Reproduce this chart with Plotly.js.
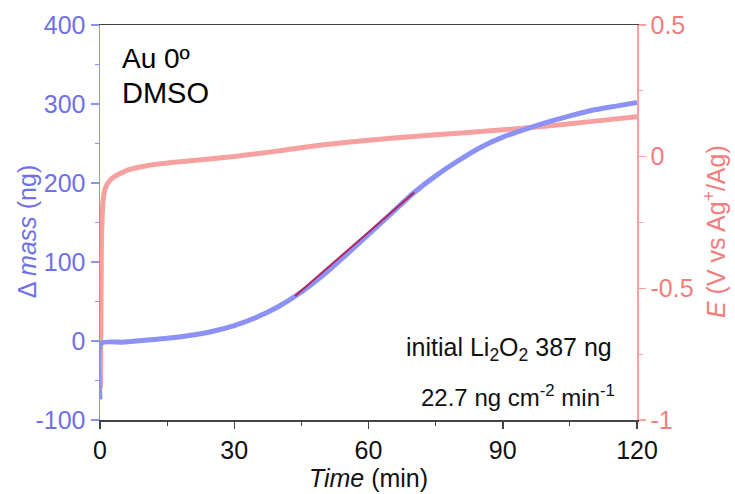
<!DOCTYPE html>
<html>
<head>
<meta charset="utf-8">
<script src="https://cdn.plot.ly/plotly-3.0.1.min.js"></script>
<style>
html,body{margin:0;padding:0;background:#fff;}
#chart{width:735px;height:494px;}
</style>
</head>
<body>
<div id="chart"></div>
<script>
// Mass change (ng) vs time (min)
var massTime = [0, 0.3, 5, 10, 15, 20, 25, 30, 35, 40, 45, 50, 55, 60, 65, 70, 75, 80, 85, 90, 95, 100, 105, 110, 115, 120];
var massVal  = [-74, -3, -1.5, 1, 3.5, 7, 12, 19.5, 30, 44, 62, 84, 109, 135, 161, 187, 209, 228, 245, 258, 268, 277, 285, 292, 297, 302];
// Potential (V vs Ag+/Ag) vs time (min)
var eTime = [0.1, 0.3, 0.5, 0.7, 1.1, 1.6, 2.2, 3.3, 5, 6.3, 8, 12, 16, 22, 30, 40, 50, 60, 70, 80, 90, 100, 110, 120];
var eVal  = [-0.88, -0.35, -0.22, -0.165, -0.125, -0.105, -0.09, -0.075, -0.06, -0.05, -0.043, -0.03, -0.022, -0.013, 0.001, 0.022, 0.045, 0.062, 0.077, 0.089, 0.102, 0.116, 0.134, 0.152];
// Linear fit segment
var fitTime = [43.6, 70.2];
var fitVal  = [57, 188];
// Tick labels
var massTicks = [-100, 0, 100, 200, 300, 400];
var massTickText = ["-100", "0", "100", "200", "300", "400"];
var eTicks = [-1, -0.5, 0, 0.5];
var eTickText = ["-1", "-0.5", "0", "0.5"];

var FONT = "Liberation Sans, Arial, Helvetica, sans-serif";
var BLUE_TEXT = "rgb(112,112,232)";
var BLUE_LINE = "rgb(140,145,245)";
var RED_TEXT = "rgb(242,125,125)";
var RED_LINE = "rgb(246,160,160)";

var traces = [
  {x: eTime, y: eVal, yaxis: "y", type: "scatter", mode: "lines",
   line: {color: RED_LINE, width: 5, shape: "spline", smoothing: 0.6}, hoverinfo: "skip"},
  {x: massTime, y: massVal, yaxis: "y2", type: "scatter", mode: "lines",
   line: {color: BLUE_LINE, width: 5, shape: "spline", smoothing: 0.6}, hoverinfo: "skip"},
  {x: fitTime, y: fitVal, yaxis: "y2", type: "scatter", mode: "lines",
   line: {color: "rgb(175,40,95)", width: 2}, hoverinfo: "skip"}
];

var layout = {
  width: 735, height: 494,
  margin: {l: 100, r: 98, t: 25, b: 74},
  paper_bgcolor: "#fff", plot_bgcolor: "#fff",
  showlegend: false,
  font: {family: FONT, size: 25, color: "#111"},
  xaxis: {
    range: [0, 120], tickmode: "linear", tick0: 0, dtick: 30,
    showgrid: false, zeroline: false, showline: true, linecolor: "#444", linewidth: 1.5, mirror: true,
    ticks: "outside", ticklen: 7, tickcolor: "#444", tickwidth: 1.5,
    minor: {tickmode: "linear", tick0: 0, dtick: 15, ticks: "outside", ticklen: 4, tickcolor: "#444", tickwidth: 1},
    tickfont: {family: FONT, size: 25, color: "#111"},
    title: {text: "<i>Time</i> (min)", font: {family: FONT, size: 25, color: "#111"}, standoff: 5},
    automargin: false, fixedrange: true
  },
  yaxis: {
    side: "right", range: [-1, 0.5],
    tickmode: "array", tickvals: eTicks, ticktext: eTickText,
    showgrid: false, zeroline: false, showline: true, linecolor: RED_LINE, linewidth: 1.5,
    ticks: "outside", ticklen: 7, tickcolor: RED_LINE, tickwidth: 1.5,
    minor: {tickmode: "linear", tick0: 0, dtick: 0.25, ticks: "outside", ticklen: 4, tickcolor: RED_LINE, tickwidth: 1},
    tickfont: {family: FONT, size: 25, color: RED_TEXT},
    automargin: false, fixedrange: true
  },
  yaxis2: {
    overlaying: "y", side: "left", range: [-100, 400],
    tickmode: "array", tickvals: massTicks, ticktext: massTickText,
    showgrid: false, zeroline: false, showline: true, linecolor: BLUE_LINE, linewidth: 1.5,
    ticks: "outside", ticklen: 8, tickcolor: BLUE_LINE, tickwidth: 1.5,
    minor: {tickmode: "linear", tick0: 0, dtick: 50, ticks: "outside", ticklen: 4, tickcolor: BLUE_LINE, tickwidth: 1},
    tickfont: {family: FONT, size: 25, color: BLUE_TEXT},
    automargin: false, fixedrange: true
  },
  annotations: [
    {xref: "paper", yref: "paper", x: -0.136, y: 0.478, xanchor: "center", yanchor: "middle", textangle: -90,
     text: "\u0394 <i>mass</i> (ng)", showarrow: false, font: {family: FONT, size: 25, color: BLUE_TEXT}},
    {xref: "paper", yref: "paper", x: 1.145, y: 0.478, xanchor: "center", yanchor: "middle", textangle: -90,
     text: "<i>E</i> (V vs Ag<sup>+</sup>/Ag)", showarrow: false, font: {family: FONT, size: 25, color: RED_TEXT}},
    {xref: "paper", yref: "paper", x: 0.038, y: 0.914, xanchor: "left", yanchor: "middle",
     text: "Au 0\u00BA", showarrow: false, font: {family: FONT, size: 28, color: "#000"}},
    {xref: "paper", yref: "paper", x: 0.038, y: 0.827, xanchor: "left", yanchor: "middle",
     text: "DMSO", showarrow: false, font: {family: FONT, size: 29, color: "#000"}},
    {xref: "paper", yref: "paper", x: 0.958, y: 0.18, xanchor: "right", yanchor: "middle",
     text: "initial Li<sub>2</sub>O<sub>2</sub> 387 ng", showarrow: false, font: {family: FONT, size: 25, color: "#111"}},
    {xref: "paper", yref: "paper", x: 0.962, y: 0.062, xanchor: "right", yanchor: "middle",
     text: "22.7 ng cm<sup>-2</sup> min<sup>-1</sup>", showarrow: false, font: {family: FONT, size: 24, color: "#111"}}
  ]
};

Plotly.newPlot("chart", traces, layout, {staticPlot: true, displayModeBar: false});
</script>
</body>
</html>
